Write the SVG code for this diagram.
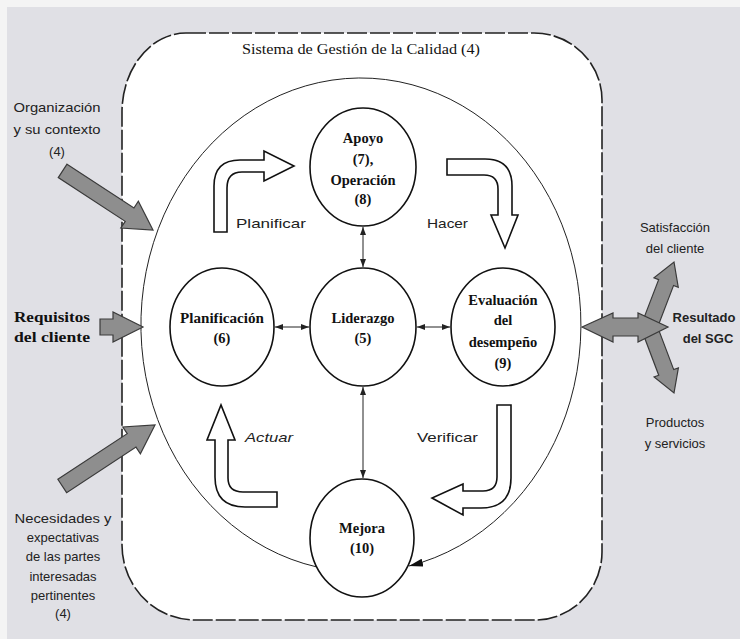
<svg xmlns="http://www.w3.org/2000/svg" width="740" height="639" viewBox="0 0 740 639">
<defs>
<style>
.sans{font-family:"Liberation Sans","DejaVu Sans",Arial,sans-serif;fill:#222;font-size:13px}
.serif{font-family:"Liberation Serif","DejaVu Serif","Times New Roman",serif;fill:#111;font-size:14.5px;font-weight:bold}
.title{font-family:"Liberation Serif","DejaVu Serif","Times New Roman",serif;fill:#111;font-size:14px}
.node{fill:#fff;stroke:#111;stroke-width:1.6}
.block{fill:#fff;stroke:#111;stroke-width:1.6;stroke-linejoin:miter}
.gray{fill:#8e8e8e;stroke:#3a3a3a;stroke-width:1.2}
.conn{fill:none;stroke:#222;stroke-width:1}
</style>
<marker id="sm" viewBox="0 0 8 6" refX="8" refY="3" markerWidth="8" markerHeight="6" markerUnits="userSpaceOnUse" orient="auto-start-reverse">
<path d="M0,0 L8,3 L0,6 Z" fill="#222"/>
</marker>
<marker id="big" viewBox="0 0 14 8" refX="14" refY="4" markerWidth="14" markerHeight="8" markerUnits="userSpaceOnUse" orient="auto">
<path d="M0,0 L14,4 L0,8 Z" fill="#111"/>
</marker>
</defs>
<rect x="0" y="0" width="740" height="639" fill="#f4f4f4"/>
<rect x="7" y="7" width="733" height="632" fill="#e0e0e5"/>
<g id="sistema">
<path d="M186,33 H534 A68,67 0 0 1 602,100 V552 A67,68 0 0 1 535,620 H195 A73,75 0 0 1 122,545 V112 A64,79 0 0 1 186,33 Z" fill="#fff" stroke="#222" stroke-width="1.6" stroke-dasharray="20 3"/>
<text class="title" x="361" y="54" text-anchor="middle" textLength="238" lengthAdjust="spacingAndGlyphs">Sistema de Gestión de la Calidad (4)</text>
</g>
<g id="connectors">
<path class="conn" d="M317,567 A220,247 0 1 1 409,566" stroke-width="1.4" marker-end="url(#big)"/>
<line class="conn" x1="363" y1="227" x2="363" y2="267" marker-start="url(#sm)" marker-end="url(#sm)"/>
<line class="conn" x1="275" y1="327" x2="309" y2="327" marker-start="url(#sm)" marker-end="url(#sm)"/>
<line class="conn" x1="417" y1="327" x2="450" y2="327" marker-start="url(#sm)" marker-end="url(#sm)"/>
<line class="conn" x1="363" y1="387" x2="363" y2="478" marker-start="url(#sm)" marker-end="url(#sm)"/>
</g>
<g id="apoyo">
<ellipse class="node" cx="363" cy="167" rx="53" ry="59"/>
<text class="serif" x="363" y="143" text-anchor="middle">Apoyo</text>
<text class="serif" x="363" y="164" text-anchor="middle">(7),</text>
<text class="serif" x="363" y="185" text-anchor="middle">Operación</text>
<text class="serif" x="363" y="204" text-anchor="middle">(8)</text>
</g>
<g id="planificacion">
<ellipse class="node" cx="222" cy="327" rx="52" ry="59"/>
<text class="serif" x="222" y="323" text-anchor="middle" textLength="84" lengthAdjust="spacingAndGlyphs">Planificación</text>
<text class="serif" x="222" y="343" text-anchor="middle">(6)</text>
</g>
<g id="liderazgo">
<ellipse class="node" cx="363" cy="327" rx="53" ry="59"/>
<text class="serif" x="363" y="323" text-anchor="middle">Liderazgo</text>
<text class="serif" x="363" y="343" text-anchor="middle">(5)</text>
</g>
<g id="evaluacion">
<ellipse class="node" cx="503" cy="327" rx="52" ry="59"/>
<text class="serif" x="503" y="305" text-anchor="middle">Evaluación</text>
<text class="serif" x="503" y="325" text-anchor="middle">del</text>
<text class="serif" x="503" y="347" text-anchor="middle">desempeño</text>
<text class="serif" x="503" y="368" text-anchor="middle">(9)</text>
</g>
<g id="mejora">
<ellipse class="node" cx="362" cy="538" rx="52" ry="59"/>
<text class="serif" x="362" y="533" text-anchor="middle">Mejora</text>
<text class="serif" x="362" y="553" text-anchor="middle">(10)</text>
</g>
<g id="ciclo">
<path class="block" d="M214,232 L214,186 Q214,160 240,160 L264,160 L264,151 L294,166 L264,181 L264,172 L242,172 Q227,172 227,188 L227,232 Z"/>
<path class="block" d="M447,159 L485,159 Q512,159 512,186 L512,215 L518,215 L505,248 L491,215 L498,215 L498,189 Q498,175 484,175 L447,175 Z"/>
<path class="block" d="M497,405 L511,405 L511,478 Q511,508 481,508 L463,508 L463,515 L432,498 L463,484 L463,491 L483,491 Q497,491 497,477 Z"/>
<path class="block" d="M215,440 L207,440 L221,405 L235,440 L228,440 L228,478 Q228,492 243,492 L277,492 L277,507 L245,507 Q215,507 215,477 Z"/>
<text class="sans" x="236" y="228" font-size="14" textLength="70" lengthAdjust="spacingAndGlyphs">Planificar</text>
<text class="sans" x="427" y="228" font-size="14" textLength="41" lengthAdjust="spacingAndGlyphs">Hacer</text>
<text class="sans" x="417" y="442" font-size="14" textLength="61" lengthAdjust="spacingAndGlyphs">Verificar</text>
<text class="sans" x="245" y="442" font-size="14" font-style="italic" textLength="48" lengthAdjust="spacingAndGlyphs">Actuar</text>
</g>
<g id="organizacion">
<path class="gray" d="M-108,-8 L-28,-8 L-28,-16 L0,0 L-28,16 L-28,8 L-108,8 Z" transform="translate(153,230) rotate(33.2)"/>
<text class="sans" x="57" y="112" text-anchor="middle" textLength="87" lengthAdjust="spacingAndGlyphs">Organización</text>
<text class="sans" x="57" y="134" text-anchor="middle" textLength="87" lengthAdjust="spacingAndGlyphs">y su contexto</text>
<text class="sans" x="57" y="156" text-anchor="middle">(4)</text>
</g>
<g id="requisitos">
<path class="gray" d="M-43,-8 L-30,-8 L-30,-15 L0,0 L-30,15 L-30,8 L-43,8 Z" transform="translate(143,327)"/>
<text class="serif" x="52" y="322" text-anchor="middle" font-size="14" textLength="76" lengthAdjust="spacingAndGlyphs">Requisitos</text>
<text class="serif" x="52" y="342" text-anchor="middle" font-size="14" textLength="76" lengthAdjust="spacingAndGlyphs">del cliente</text>
</g>
<g id="necesidades">
<path class="gray" d="M-111,-8 L-28,-8 L-28,-16 L0,0 L-28,16 L-28,8 L-111,8 Z" transform="translate(155,425) rotate(-33.3)"/>
<text class="sans" x="63" y="523" text-anchor="middle" textLength="97" lengthAdjust="spacingAndGlyphs">Necesidades y</text>
<text class="sans" x="63" y="542" text-anchor="middle">expectativas</text>
<text class="sans" x="63" y="561" text-anchor="middle">de las partes</text>
<text class="sans" x="63" y="581" text-anchor="middle">interesadas</text>
<text class="sans" x="63" y="600" text-anchor="middle">pertinentes</text>
<text class="sans" x="63" y="618" text-anchor="middle">(4)</text>
</g>
<g id="resultado">
<path class="gray" d="M-64,-8 L-22,-8 L-22,-13 L0,0 L-22,13 L-22,8 L-64,8 Z" transform="translate(674,262) rotate(-69)"/>
<path class="gray" d="M-65,-8 L-22,-8 L-22,-13 L0,0 L-22,13 L-22,8 L-65,8 Z" transform="translate(674,393) rotate(69.3)"/>
<path class="gray" d="M582,327 L613,313 L613,318 L638,318 L638,313 L668,327 L638,342 L638,336 L613,336 L613,342 Z"/>
<text class="sans" x="675" y="232" text-anchor="middle">Satisfacción</text>
<text class="sans" x="675" y="253" text-anchor="middle">del cliente</text>
<text class="sans" x="704" y="322" text-anchor="middle" font-weight="bold">Resultado</text>
<text class="sans" x="708" y="343" text-anchor="middle" font-weight="bold">del SGC</text>
<text class="sans" x="675" y="427" text-anchor="middle">Productos</text>
<text class="sans" x="675" y="448" text-anchor="middle">y servicios</text>
</g>
</svg>
